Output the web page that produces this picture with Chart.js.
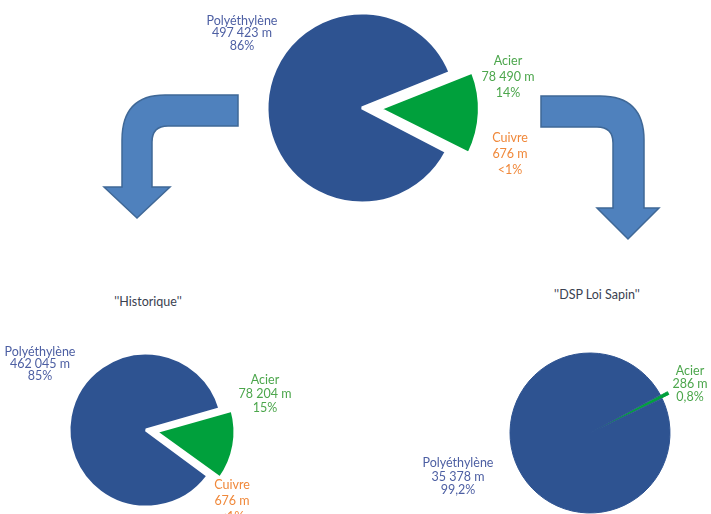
<!DOCTYPE html>
<html>
<head>
<meta charset="utf-8">
<script src="https://cdn.jsdelivr.net/npm/chart.js@4.4.0/dist/chart.umd.min.js"></script>
<style>
  html, body { margin: 0; padding: 0; background: #fff; }
  body { width: 711px; height: 514px; position: relative; overflow: hidden; font-family: Lato, 'Open Sans', sans-serif; }
  canvas { position: absolute; }
  .lbl { position: absolute; transform: translateX(-50%); text-align: center; white-space: nowrap; font-size: 12.5px; }
  svg { position: absolute; left: 0; top: 0; }
</style>
</head>
<body>
<svg width="711" height="514">
  <path d="M 238 95 L 165 95 Q 122 95 122 140 L 122 187 L 104 187 L 137 218 L 170 187 L 152 187 L 152 142 Q 152 126 168 126 L 238 126 Z"
        fill="#4F81BD" stroke="#3F6897" stroke-width="1.5"/>
  <path d="M 541 96 L 600 96 Q 644 96 644 140 L 644 208 L 659 208 L 628 239 L 597 208 L 613 208 L 613 143 Q 613 127 597 127 L 541 127 Z"
        fill="#4F81BD" stroke="#3F6897" stroke-width="1.5"/>
</svg>
<canvas id="totalPie" width="240" height="216" style="left:242px;top:0px"></canvas>
<canvas id="histoPie" width="200" height="200" style="left:46px;top:330px"></canvas>
<canvas id="sapinPie" width="200" height="200" style="left:490px;top:333px"></canvas>
<div id="labels"></div>
<script>
// Réseau total
const materials = ['Acier', 'Cuivre', 'Polyéthylène'];
const totalLengths = [78490, 676, 497423];
const totalPercents = ['14%', '<1%', '86%'];

// "Historique"
const histoLengths = [78204, 676, 462045];
const histoPercents = ['15%', '<1%', '85%'];

// "DSP Loi Sapin"
const sapinMaterials = ['Acier', 'Polyéthylène'];
const sapinLengths = [286, 35378];
const sapinPercents = ['0,8%', '99,2%'];

const colorBlue = '#2E5391';
const colorGreen = '#00A03C';
const colorOrange = '#F79646';
const textColors = { 'Acier': '#4CA64C', 'Cuivre': '#F0883A', 'Polyéthylène': '#4D5FA3' };

function fmt(n) {
    return String(n).replace(/\B(?=(\d{3})+(?!\d))/g, ' ') + ' m';
}

function makePie(id, labels, values, colors, offsets, radius, rotation, border, borderColors) {
    const ctx = document.getElementById(id).getContext('2d');
    return new Chart(ctx, {
        type: 'pie',
        data: {
            labels: labels,
            datasets: [{
                data: values,
                backgroundColor: colors,
                borderColor: borderColors,
                borderWidth: border,
                offset: offsets
            }]
        },
        options: {
            responsive: false,
            animation: false,
            radius: radius,
            rotation: rotation,
            layout: { padding: 0 },
            plugins: {
                legend: { display: false },
                tooltip: { enabled: false }
            }
        }
    });
}

makePie('totalPie', materials, totalLengths, [colorGreen, colorOrange, colorBlue], [72, 0, 0], 95, 68, 3, '#ffffff');
makePie('histoPie', materials, histoLengths, [colorGreen, colorOrange, colorBlue], [40, 0, 0], 77, 74, 3, '#ffffff');
makePie('sapinPie', sapinMaterials, sapinLengths, [colorGreen, colorBlue], [16, 0], 80, 61.5, 1, [colorGreen, colorBlue]);

// étiquettes
const holder = document.getElementById('labels');
function addLabel(x, y, lines, color, lh) {
    const d = document.createElement('div');
    d.className = 'lbl';
    d.style.left = x + 'px';
    d.style.top = (y - lh / 2) + 'px';
    d.style.lineHeight = lh + 'px';
    d.style.color = color;
    d.innerHTML = lines.join('<br>');
    holder.appendChild(d);
}

const totalPos = [[508, 61, 16], [510, 138, 16], [242, 21, 12.5]];
materials.forEach((m, i) => {
    const p = totalPos[i];
    addLabel(p[0], p[1], [m, fmt(totalLengths[i]), totalPercents[i]], textColors[m], p[2]);
});

const histoPos = [[265, 380, 14], [232, 485, 16], [40, 352, 12]];
materials.forEach((m, i) => {
    const p = histoPos[i];
    addLabel(p[0], p[1], [m, fmt(histoLengths[i]), histoPercents[i]], textColors[m], p[2]);
});

const sapinPos = [[690, 370, 13], [458, 463, 13.5]];
sapinMaterials.forEach((m, i) => {
    const p = sapinPos[i];
    addLabel(p[0], p[1], [m, fmt(sapinLengths[i]), sapinPercents[i]], textColors[m], p[2]);
});

addLabel(148, 302, ["''Historique''"], '#3A4150', 12);
addLabel(597, 295, ["''DSP Loi Sapin''"], '#3A4150', 12);
</script>
</body>
</html>
